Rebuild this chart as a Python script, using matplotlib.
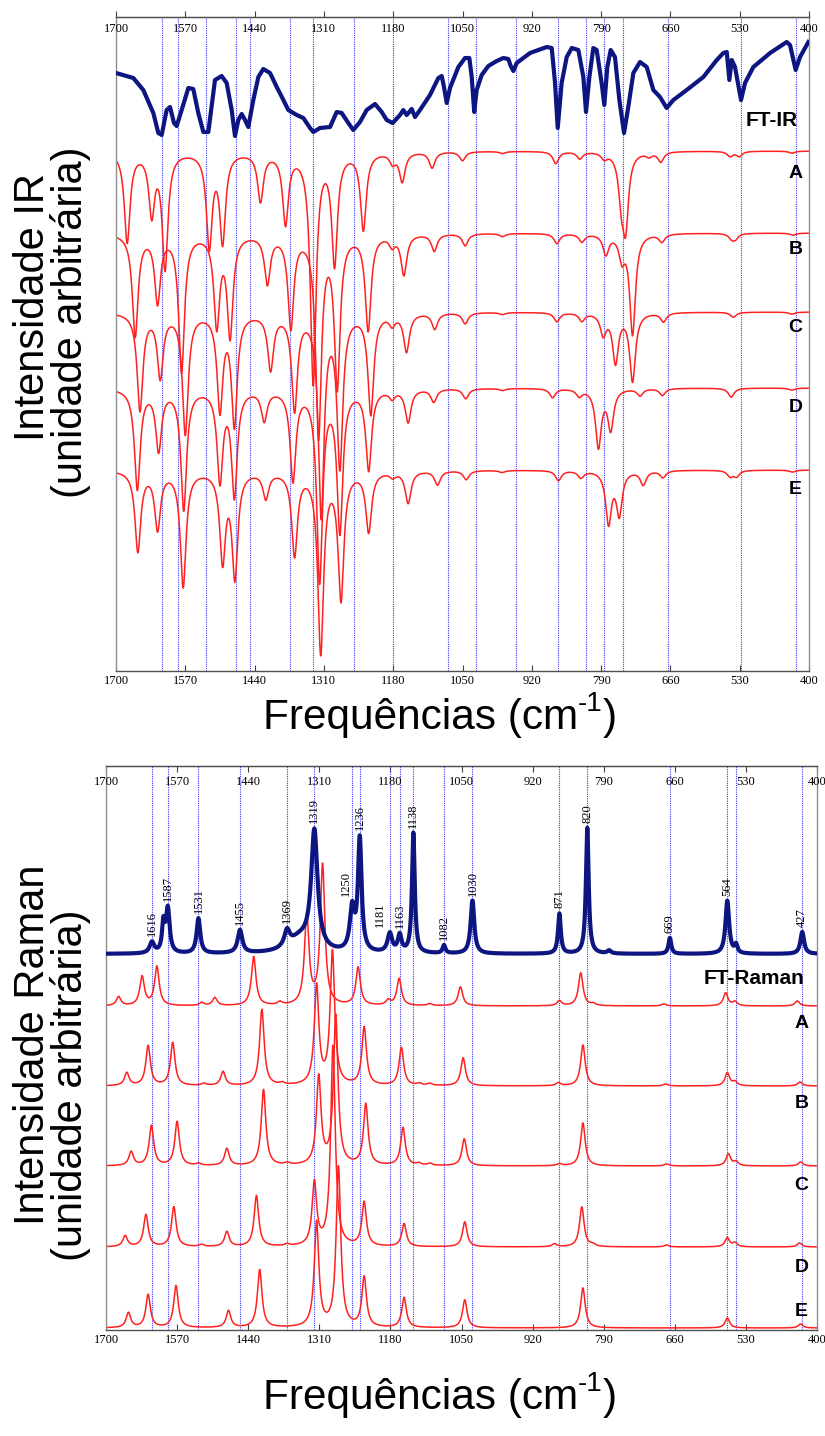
import numpy as np
import matplotlib
matplotlib.use('Agg')
import matplotlib.pyplot as plt

# ---------------- data ----------------
ticks = [1700, 1570, 1440, 1310, 1180, 1050, 920, 790, 660, 530, 400]

# IR reference (blue dotted) lines
ir_lines = [1613, 1583, 1532, 1475, 1449, 1373, 1330, 1253, 1181, 1078, 1025,
            950, 870, 818, 784, 749, 664, 527, 425]

# FT-IR experimental trace (wavenumber, intensity)
ftir_wn = [1700, 1667.5, 1648.8, 1630, 1620.6, 1614.3, 1605, 1598.7, 1591.2, 1586.2,
           1576.8, 1564.3, 1555, 1545.6, 1536.2, 1526.8, 1514.3, 1501.8, 1492.4, 1483,
           1476.8, 1470.5, 1464.2, 1458, 1451.8, 1442.4, 1433, 1423.7, 1411, 1398.5,
           1386, 1376.8, 1361, 1348.6, 1336, 1329.8, 1317.3, 1298.5, 1286, 1276.6,
           1264.2, 1254.8, 1242.3, 1229.7, 1214.1, 1201.6, 1192.2, 1181, 1167.2, 1161,
           1154.7, 1145.3, 1139.1, 1129.7, 1111, 1095.3, 1089, 1084.7, 1079.6, 1073.4,
           1057.8, 1045.3, 1037.2, 1032.7, 1028, 1023.4, 1014, 1001.5, 985.8, 973.4,
           964, 959.5, 954.6, 948.3, 923.3, 892, 882.6, 876.4, 871.4, 864,
           854.5, 845, 832.7, 823.3, 818.3, 812, 804.6, 798.3, 789, 784,
           778.3, 772, 764, 755.7, 747, 739, 729.5, 717, 704.4, 692,
           679.5, 667, 654.5, 629.4, 598.2, 573, 560.7, 554.3, 549.4, 545,
           538.8, 527.5, 520, 504.4, 473, 441.8, 435.6, 425, 416.8, 401.2]
ftir_val = [598, 593, 581, 558, 538, 536, 561, 564, 548, 545,
            561, 583, 582, 558, 539, 539, 591, 595, 588, 561,
            535, 551, 557, 551, 544, 571, 594, 602, 598, 584,
            571, 561, 556, 553, 543, 539, 543, 544, 559, 558,
            548, 541, 549, 561, 567, 559, 551, 548, 556, 561,
            556, 562, 554, 561, 576, 593, 595, 584, 568, 583,
            604, 613, 613, 594, 559, 581, 596, 605, 610, 613,
            612, 605, 600, 608, 618, 624, 623, 588, 543, 588,
            614, 623, 621, 594, 559, 594, 623, 621, 588, 566,
            604, 621, 614, 571, 538, 564, 598, 609, 604, 581,
            574, 563, 571, 581, 594, 611, 618, 619, 591, 611,
            604, 571, 588, 604, 618, 629, 626, 601, 614, 629]

# simulated IR band positions and depths for models A-E
irA_wn = [1679, 1633, 1608, 1525, 1500, 1429, 1382, 1330, 1290, 1236, 1181, 1163, 1107,
          1050, 975, 875, 830, 784, 752, 744, 700, 678, 548, 531, 432]
irA_d = [90, 60, 115, 93, 88, 48, 70, 230, 110, 77, 10, 29, 16,
         9, 2, 12, 7, 6, 40, 70, 4, 10, 5, 5, 2]
irB_wn = [1664, 1622, 1577, 1511, 1486, 1416, 1372, 1320, 1285, 1227, 1182, 1160, 1103,
          1045, 975, 873, 826, 781, 751, 731, 676, 545, 538, 430]
irB_d = [102, 67, 137, 90, 100, 48, 92, 200, 150, 95, 10, 40, 17,
         12, 3, 10, 8, 20, 23, 100, 8, 5, 5, 2]
irC_wn = [1655, 1617, 1570, 1505, 1478, 1410, 1365, 1315, 1280, 1222, 1182, 1155, 1102,
          1045, 975, 873, 826, 786, 763, 731, 673, 542, 432]
irC_d = [97, 63, 120, 95, 110, 55, 95, 200, 150, 100, 10, 38, 16,
         11, 2, 9, 8, 21, 49, 68, 9, 5, 2]
irD_wn = [1660, 1620, 1573, 1505, 1478, 1422, 1368, 1318, 1280, 1226, 1182, 1152, 1104,
          1044, 975, 881, 831, 795, 772, 717, 675, 546, 432]
irD_d = [100, 60, 120, 90, 105, 30, 90, 190, 140, 80, 8, 33, 13,
         10, 2, 9, 7, 58, 40, 7, 7, 9, 2]
irE_wn = [1659, 1622, 1574, 1500, 1477, 1419, 1365, 1316, 1278, 1226, 1181, 1152, 1097,
          1043, 976, 870, 828, 776, 756, 711, 674, 548, 536, 431]
irE_d = [80, 57, 115, 88, 104, 26, 83, 180, 126, 60, 5, 32, 14,
         9, 2, 10, 7, 52, 43, 14, 7, 6, 6, 2]

# Raman reference lines and labelled experimental bands
raman_lines = [1616, 1587, 1531, 1455, 1369, 1319, 1250, 1236, 1181, 1163, 1138, 1082,
               1030, 871, 820, 669, 564, 548, 427]
raman_labels = [1616, 1587, 1531, 1455, 1369, 1319, 1250, 1236, 1181, 1163, 1138, 1082,
                1030, 871, 820, 669, 564, 427]

# FT-Raman experimental bands: position, height, half-width
ftr_wn = [1616, 1595, 1587, 1531, 1455, 1369, 1345, 1319, 1250, 1236, 1181, 1163, 1138,
          1082, 1030, 871, 820, 780, 669, 564, 548, 427]
ftr_h = [11, 28, 44, 35, 23, 16, 14, 118, 42, 112, 19, 17, 120,
         8, 53, 40, 126, 3, 16, 53, 8, 22]
ftr_g = [5, 3, 4, 4, 5, 6, 25, 7, 5, 4, 5, 4, 3,
         3, 4, 3, 3, 4, 3, 4, 3, 4]

# simulated Raman bands for models A-E
raA_wn = [1677, 1634, 1607, 1525, 1501, 1430, 1382, 1333, 1304, 1239, 1184, 1164, 1108,
          1052, 871, 832, 809, 680, 567, 550, 436]
raA_h = [9, 29, 39, 3, 8, 49, 3, 89, 140, 38, 5, 27, 2,
         19, 5, 33, 2, 2, 13, 4, 5]
raB_wn = [1662, 1623, 1578, 1521, 1486, 1415, 1378, 1315, 1286, 1228, 1160, 1127, 1108,
          1047, 873, 828, 677, 564, 550, 431]
raB_h = [13, 40, 43, 2, 14, 76, 2, 99, 133, 58, 38, 2, 2,
         28, 3, 41, 2, 13, 4, 4]
raC_wn = [1654, 1617, 1570, 1531, 1479, 1412, 1369, 1311, 1280, 1225, 1157, 1128, 1108,
          1045, 871, 828, 675, 562, 548, 430]
raC_h = [14, 40, 44, 2, 17, 76, 2, 88, 149, 61, 38, 2, 2,
         27, 2, 43, 2, 12, 4, 4]
raD_wn = [1665, 1627, 1576, 1525, 1479, 1425, 1369, 1319, 1285, 1228, 1155, 1044, 880,
          830, 810, 675, 564, 550, 432]
raD_h = [11, 32, 40, 2, 15, 51, 2, 63, 200, 44, 23, 25, 3,
         40, 2, 2, 9, 4, 4]
raE_wn = [1659, 1623, 1572, 1476, 1419, 1315, 1275, 1228, 1155, 1044, 828, 564, 430]
raE_h = [15, 33, 42, 17, 58, 105, 160, 50, 30, 28, 40, 10, 4]

models = ['A', 'B', 'C', 'D', 'E']

# ---------------- helpers ----------------
def bands(x, centers, heights, gamma):
    y = np.zeros_like(x)
    g = np.broadcast_to(np.asarray(gamma, dtype=float), (len(centers),))
    for c, h, gg in zip(centers, heights, g):
        y += h * gg ** 2 / ((x - c) ** 2 + gg ** 2)
    return y

x = np.linspace(1700, 400, 5000)

RED = '#ff2020'
NAVY = '#0d1580'
BLUE = '#3a3aff'
SERIF = 'Liberation Serif'
SANS = 'Liberation Sans'
W, H = 825, 1436

fig = plt.figure(figsize=(8.25, 14.36), dpi=100)
renderer = fig.canvas.get_renderer()

def style_axis(ax, top_ticks_out):
    ax.set_xlim(1700, 400)
    ax.set_yticks([])
    for s in ax.spines.values():
        s.set_color('#505050')
        s.set_linewidth(1.0)
    ax.spines['left'].set_color('#909090')
    ax.spines['right'].set_color('#909090')
    ax.set_xticks(ticks)
    ax.set_xticklabels([str(t) for t in ticks], fontfamily=SERIF, fontsize=9)
    ax.tick_params(axis='x', direction='in', length=4, width=0.8, pad=3,
                   color='#404040')
    sec = ax.secondary_xaxis('top')
    sec.set_xticks(ticks)
    sec.set_xticklabels([])
    sec.tick_params(axis='x', direction='out' if top_ticks_out else 'in',
                    length=4, width=0.8, color='#404040')
    sec.spines['top'].set_color('#505050')
    for t in ticks:
        ax.annotate(str(t), xy=(t, 1.0), xycoords=ax.get_xaxis_transform(),
                    xytext=(0, -4 if top_ticks_out else -7), textcoords='offset points',
                    ha='center', va='top', fontfamily=SERIF, fontsize=9)

def freq_label(cx, base_y):
    """'Frequências (cm-1)' with a plain hyphen superscript, centred at cx (px)."""
    fs, fs2 = 30.5, 20
    parts = [('Frequências (cm', fs, 0.0), ('-1', fs2, 0.42), (')', fs, 0.0)]
    texts, widths = [], []
    for s, f, _ in parts:
        t = fig.text(0, 0, s, fontfamily=SANS, fontsize=f, ha='left', va='baseline')
        widths.append(t.get_window_extent(renderer).width)
        texts.append(t)
    x0 = cx - sum(widths) / 2
    em = fs * 100 / 72
    for t, w, (_, _, rise) in zip(texts, widths, parts):
        t.set_position((x0 / W, 1 - (base_y - rise * em) / H))
        x0 += w

# ---------------- IR panel ----------------
ax1 = fig.add_axes([116 / W, 1 - 671 / H, 693 / W, 654 / H])
style_axis(ax1, True)
ax1.set_ylim(0, 654)
for w in ir_lines:
    ax1.axvline(w, color=BLUE, ls=(0, (1, 1)), lw=0.8, zorder=1)

ir_base = [520, 438, 359, 283, 201]
ir_sets = [(irA_wn, irA_d), (irB_wn, irB_d), (irC_wn, irC_d), (irD_wn, irD_d), (irE_wn, irE_d)]
for base, (wn, d) in zip(ir_base, ir_sets):
    ax1.plot(x, base - bands(x, wn, d, 6.5), color=RED, lw=1.1, zorder=2)
ax1.plot(ftir_wn, ftir_val, color=NAVY, lw=3.0, zorder=3, solid_joinstyle='round')

ax1.text(470, 550, 'FT-IR', fontfamily=SANS, fontweight='bold', fontsize=15,
         ha='center', va='center')
ir_lab_y = [498, 421, 343, 264, 182]
for m, yy in zip(models, ir_lab_y):
    ax1.text(425, yy, m, fontfamily=SANS, fontweight='bold', fontsize=14,
             ha='center', va='center')

# ---------------- Raman panel ----------------
ax2 = fig.add_axes([106 / W, 1 - 1330 / H, 711 / W, 564 / H])
style_axis(ax2, False)
ax2.set_ylim(0, 564)
for w in raman_lines:
    ax2.axvline(w, color=BLUE, ls=(0, (1, 1)), lw=0.8, zorder=1)

ra_base = [324, 244, 164, 83, 2]
ra_sets = [(raA_wn, raA_h), (raB_wn, raB_h), (raC_wn, raC_h), (raD_wn, raD_h), (raE_wn, raE_h)]
for base, (wn, h) in zip(ra_base, ra_sets):
    ax2.plot(x, base + bands(x, wn, h, 5.0), color=RED, lw=1.1, zorder=2)

ftr_base = 376
ftr_y = ftr_base + bands(x, ftr_wn, ftr_h, ftr_g)
ax2.plot(x, ftr_y, color=NAVY, lw=3.0, zorder=3)

label_shift = {1250: 12, 1181: 19}
for w in raman_labels:
    yv = ftr_base + bands(np.array([float(w)]), ftr_wn, ftr_h, ftr_g)[0]
    ax2.text(w + label_shift.get(w, 0), yv + 5, str(w), rotation=90,
             fontfamily=SERIF, fontsize=9, ha='center', va='bottom', zorder=4)

ax2.text(516, 352, 'FT-Raman', fontfamily=SANS, fontweight='bold', fontsize=15,
         ha='center', va='center')
ra_lab_y = [307, 227, 144, 63, 18]
for m, yy in zip(models, ra_lab_y):
    ax2.text(428, yy, m, fontfamily=SANS, fontweight='bold', fontsize=14,
             ha='center', va='center')

# ---------------- axis titles ----------------
for (xc, yc, s) in [(33, 307, 'Intensidade IR'),
                    (71, 322, '(unidade arbitrária)'),
                    (33, 1045, 'Intensidade Raman'),
                    (71, 1085, '(unidade arbitrária)')]:
    fig.text(xc / W, 1 - yc / H, s, rotation=90, ha='center', va='center',
             fontfamily=SANS, fontsize=30)

freq_label(440, 729)
freq_label(440, 1409)

fig.savefig('out.png', dpi=100)
